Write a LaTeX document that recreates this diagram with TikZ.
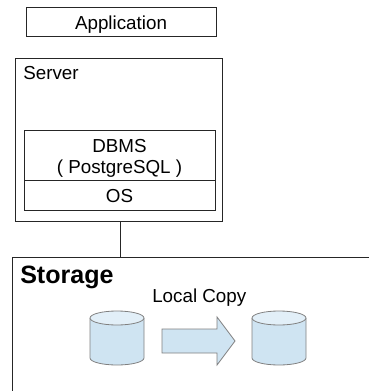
\documentclass[tikz,border=0pt]{standalone}
\usepackage{fontspec}
\setmainfont{Liberation Sans}
\definecolor{blue1}{HTML}{CFE4F2}
\definecolor{blue2}{HTML}{E2EFF8}
\tikzset{
    box/.style={draw=black!85, line width=0.75pt, inner sep=0pt, font=\fontsize{14.1}{15.5}\selectfont, align=center},
    label/.style={anchor=base west, inner sep=0pt, font=\fontsize{14.1}{15.5}\selectfont},
    disk/.style={draw=black!50, line width=0.6pt, fill=blue1},
}
\begin{document}
\begin{tikzpicture}[x=0.75pt, y=-0.75pt]
    \useasboundingbox (0, 0) rectangle (369, 391);

    % Application
    \node[box, minimum width=190*0.75pt, minimum height=29*0.75pt, text height=13pt, text depth=3pt] (app) at (121, 22.5) {Application};

    % Server
    \node[box, minimum width=207*0.75pt, minimum height=162*0.75pt] (server) at (118.5, 140) {};
    \node[label] (serverlabel) at (23, 80) {Server};
    \node[box, minimum width=191*0.75pt, minimum height=50*0.75pt] (dbms) at (119.5, 156) {};
    \node[label, anchor=center, align=center] (dbmslabel) at (119.5, 158.2) {DBMS\\( PostgreSQL )};
    \node[box, minimum width=191*0.75pt, minimum height=29*0.75pt, text height=13pt, text depth=3pt] (os) at (119.5, 195.5) {OS};

    % Storage
    \coordinate (storagetop) at (120, 257);
    \draw[line width=0.75pt, draw=black!85] (369, 257) -- (12, 257) -- (12, 391);
    \node[label, font=\fontsize{18.8}{22}\selectfont\bfseries] (storagelabel) at (20, 283) {Storage};
    \node[label] (copylabel) at (152, 302) {Local Copy};
    \draw[line width=0.75pt, draw=black!85] (server.south -| storagetop) -- (storagetop);

    % Disks
    \foreach \x in {90, 252} {
        \draw[disk] (\x, 318) -- (\x, 358) arc[start angle=180, end angle=0, x radius=27, y radius=7] -- (\x+54, 318);
        \draw[disk, fill=blue2] (\x+27, 318) ellipse [x radius=27, y radius=7];
    }

    % Copy arrow
    \draw[disk] (162, 329) -- (217, 329) -- (217, 317) -- (235, 341) -- (217, 365) -- (217, 353) -- (162, 353) -- cycle;
\end{tikzpicture}
\end{document}
